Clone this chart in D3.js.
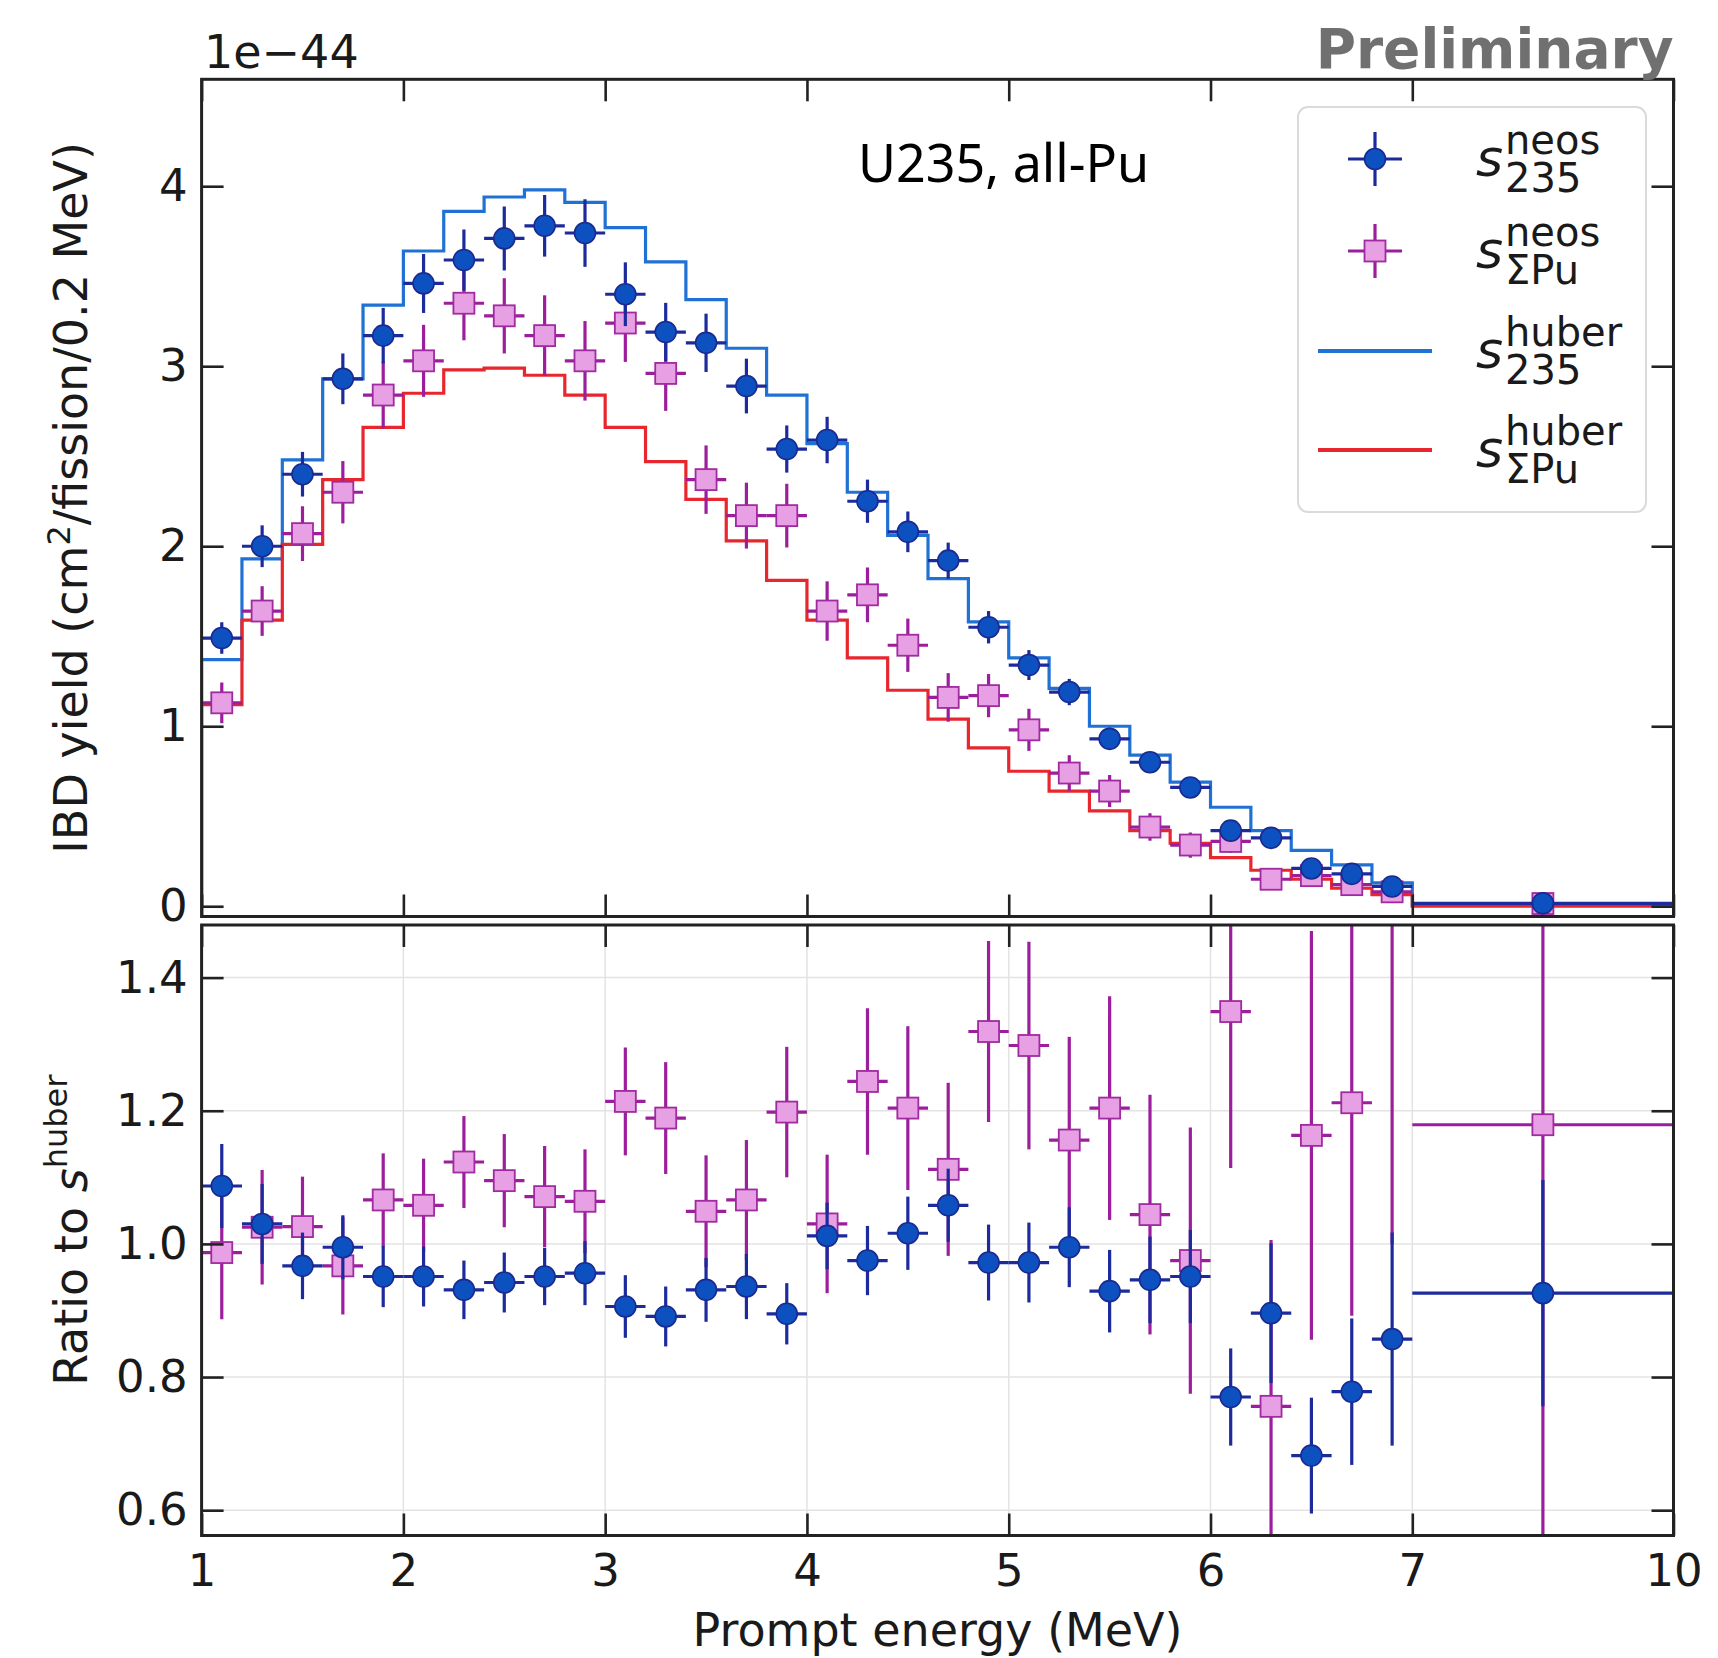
<!DOCTYPE html>
<html>
<head>
<meta charset="utf-8">
<script src="https://cdn.jsdelivr.net/npm/d3@7"></script>
<style>
  body { margin: 0; background: #fff; }
  svg { display: block; }
</style>
</head>
<body>
<svg id="chart" width="1718" height="1658"></svg>
<script>
// Prompt-energy bins (MeV): 0.2 MeV bins from 1 to 7, one wide bin 7-10
const binEdges = [1.0, 1.2, 1.4, 1.6, 1.8, 2.0, 2.2, 2.4, 2.6, 2.8, 3.0,
                  3.2, 3.4, 3.6, 3.8, 4.0, 4.2, 4.4, 4.6, 4.8, 5.0,
                  5.2, 5.4, 5.6, 5.8, 6.0, 6.2, 6.4, 6.6, 6.8, 7.0, 10.0];

// IBD yield, units of 1e-44 cm^2/fission/0.2 MeV
const neos235 = [1.49, 2.00, 2.40, 2.93, 3.17, 3.46, 3.59, 3.71, 3.78, 3.74,
                 3.40, 3.19, 3.13, 2.89, 2.54, 2.59, 2.25, 2.08, 1.92, 1.55,
                 1.34, 1.19, 0.93, 0.80, 0.66, 0.42, 0.38, 0.21, 0.18, 0.11, 0.016];
const neos235Err = [0.087, 0.116, 0.124, 0.141, 0.154, 0.164, 0.170, 0.178, 0.171, 0.188,
                    0.177, 0.162, 0.162, 0.152, 0.131, 0.129, 0.120, 0.113, 0.100, 0.090,
                    0.083, 0.073, 0.062, 0.055, 0.048, 0.040, 0.044, 0.027, 0.025, 0.021, 0.002];
const neosPu = [1.13, 1.64, 2.07, 2.30, 2.84, 3.03, 3.35, 3.28, 3.17, 3.03,
                3.24, 2.96, 2.37, 2.17, 2.17, 1.64, 1.73, 1.45, 1.16, 1.17,
                0.98, 0.74, 0.64, 0.44, 0.34, 0.36, 0.15, 0.17, 0.12, 0.08, 0.015];
const neosPuErr = [0.113, 0.138, 0.152, 0.173, 0.186, 0.200, 0.206, 0.209, 0.224, 0.221,
                   0.216, 0.208, 0.190, 0.183, 0.177, 0.165, 0.152, 0.148, 0.135, 0.120,
                   0.117, 0.099, 0.089, 0.076, 0.070, 0.063, 0.050, 0.046, 0.032, 0.039, 0.005];
const huber235 = [1.37, 1.93, 2.48, 2.93, 3.34, 3.64, 3.86, 3.94, 3.98, 3.91,
                  3.77, 3.58, 3.37, 3.10, 2.84, 2.57, 2.30, 2.06, 1.82, 1.58,
                  1.38, 1.21, 1.00, 0.84, 0.69, 0.55, 0.42, 0.31, 0.23, 0.13, 0.005];
const huberPu = [1.12, 1.59, 2.01, 2.37, 2.66, 2.85, 2.98, 2.99, 2.95, 2.84,
                 2.66, 2.47, 2.26, 2.03, 1.81, 1.59, 1.38, 1.20, 1.04, 0.88,
                 0.75, 0.64, 0.53, 0.42, 0.35, 0.27, 0.20, 0.15, 0.10, 0.065, 0.0];

// Ratio to the Huber prediction
const ratio235 = [1.087, 1.030, 0.967, 0.995, 0.951, 0.951, 0.931, 0.942, 0.951, 0.956,
                  0.906, 0.891, 0.931, 0.936, 0.895, 1.012, 0.975, 1.016, 1.058, 0.972,
                  0.972, 0.995, 0.929, 0.946, 0.951, 0.770, 0.896, 0.682, 0.778, 0.857, 0.926];
const ratio235Err = [0.063, 0.060, 0.050, 0.048, 0.046, 0.045, 0.044, 0.045, 0.043, 0.048,
                     0.047, 0.045, 0.048, 0.049, 0.046, 0.050, 0.052, 0.055, 0.055, 0.057,
                     0.060, 0.060, 0.062, 0.065, 0.070, 0.073, 0.105, 0.087, 0.110, 0.160, 0.170];
const ratioPu = [0.987, 1.025, 1.026, 0.967, 1.066, 1.058, 1.123, 1.095, 1.071, 1.064,
                 1.214, 1.189, 1.049, 1.066, 1.198, 1.030, 1.244, 1.204, 1.112, 1.319,
                 1.298, 1.156, 1.204, 1.044, 0.975, 1.349, 0.756, 1.163, 1.212, 1.600, 1.179];
const ratioPuErr = [0.100, 0.086, 0.075, 0.073, 0.070, 0.070, 0.069, 0.070, 0.076, 0.078,
                    0.081, 0.084, 0.084, 0.090, 0.098, 0.104, 0.110, 0.123, 0.130, 0.136,
                    0.156, 0.155, 0.168, 0.180, 0.200, 0.235, 0.250, 0.307, 0.320, 0.600, 0.750];

// Tick values
const xTicks = [1, 2, 3, 4, 5, 6, 7, 10];
const yTopTicks = [0, 1, 2, 3, 4];
const yBotTicks = [0.6, 0.8, 1.0, 1.2, 1.4];

// ---------------------------------------------------------------
const W = 1718, H = 1658;
const FONT = "DejaVu Sans";
const INK = "#1a1a1a";
const C = {
  blueFill: "#0d50c0", blueEdge: "#1a2a90", blueBar: "#1c2a9c",
  pinkFill: "#e7a0e3", pinkEdge: "#a02aa0", pinkBar: "#9c1e9c",
  huber235: "#1f72d3", huberPu: "#e8262d"
};

const L = 201.6, R = 1673.5;
const top1 = 79.3, bot1 = 916.5, top2 = 925, bot2 = 1535.5;

const svg = d3.select("#chart");
svg.append("rect").attr("width", W).attr("height", H).attr("fill", "#fff");

// piecewise x: the 7-10 MeV bin is compressed
const x = d3.scaleLinear().domain([1, 7, 10]).range([L, 1412.3, R]);
const yTop = d3.scaleLinear().domain([-0.057, 4.594]).range([bot1, top1]);
const yBot = d3.scaleLinear().domain([0.562, 1.479]).range([bot2, top2]);

const centers = binEdges.slice(0, -1).map((e, i) => (e + binEdges[i + 1]) / 2);
const halfW = binEdges.slice(0, -1).map((e, i) => (binEdges[i + 1] - e) / 2);

const defs = svg.append("defs");
defs.append("clipPath").attr("id", "clipTop").append("rect")
  .attr("x", L).attr("y", top1).attr("width", R - L).attr("height", bot1 - top1);
defs.append("clipPath").attr("id", "clipBot").append("rect")
  .attr("x", L).attr("y", top2).attr("width", R - L).attr("height", bot2 - top2);

// ---------------- helpers ----------------
function stepPath(vals, y) {
  let d = `M${x(binEdges[0])},${y(0)}`;
  vals.forEach((v, i) => { d += `V${y(v)}H${x(binEdges[i + 1])}`; });
  return d;
}

function errorSeries(g, vals, errs, y, kind) {
  const pts = vals.map((v, i) => ({ c: centers[i], hw: halfW[i], v, e: errs[i] }));
  const bar = kind === "circle" ? C.blueBar : C.pinkBar;
  const s = g.append("g");
  s.selectAll("line.v").data(pts).join("line").attr("class", "v")
    .attr("x1", d => x(d.c)).attr("x2", d => x(d.c))
    .attr("y1", d => y(d.v - d.e)).attr("y2", d => y(d.v + d.e))
    .attr("stroke", bar).attr("stroke-width", 3.2);
  s.selectAll("line.h").data(pts).join("line").attr("class", "h")
    .attr("x1", d => x(d.c - d.hw)).attr("x2", d => x(d.c + d.hw))
    .attr("y1", d => y(d.v)).attr("y2", d => y(d.v))
    .attr("stroke", bar).attr("stroke-width", 3.2);
  if (kind === "circle") {
    s.selectAll("circle").data(pts).join("circle")
      .attr("cx", d => x(d.c)).attr("cy", d => y(d.v)).attr("r", 10.5)
      .attr("fill", C.blueFill).attr("stroke", C.blueEdge).attr("stroke-width", 1.6);
  } else {
    s.selectAll("rect").data(pts).join("rect")
      .attr("x", d => x(d.c) - 10.5).attr("y", d => y(d.v) - 10.5)
      .attr("width", 21).attr("height", 21)
      .attr("fill", C.pinkFill).attr("stroke", C.pinkEdge).attr("stroke-width", 1.8);
  }
}

function styleAxis(g, withText) {
  g.select(".domain").remove();
  g.selectAll(".tick line").attr("stroke", "#222").attr("stroke-width", 2.6);
  g.selectAll(".tick text")
    .attr("font-family", FONT).attr("font-size", 45).attr("fill", INK);
  if (!withText) g.selectAll(".tick text").remove();
}

const TL = -22;

// ---------------- top panel ----------------
const gTop = svg.append("g");
const topData = gTop.append("g").attr("clip-path", "url(#clipTop)");
topData.append("path").attr("d", stepPath(huber235, yTop))
  .attr("fill", "none").attr("stroke", C.huber235).attr("stroke-width", 3.2);
topData.append("path").attr("d", stepPath(huberPu, yTop))
  .attr("fill", "none").attr("stroke", C.huberPu).attr("stroke-width", 3.2);
errorSeries(topData, neosPu, neosPuErr, yTop, "square");
errorSeries(topData, neos235, neos235Err, yTop, "circle");

gTop.append("g").attr("transform", `translate(${L},0)`)
  .call(d3.axisLeft(yTop).tickValues(yTopTicks).tickFormat(d3.format("d")).tickSize(TL).tickPadding(14))
  .call(g => styleAxis(g, true));
gTop.append("g").attr("transform", `translate(${R},0)`)
  .call(d3.axisRight(yTop).tickValues(yTopTicks).tickSize(TL))
  .call(g => styleAxis(g, false));
gTop.append("g").attr("transform", `translate(0,${top1})`)
  .call(d3.axisTop(x).tickValues(xTicks).tickSize(TL))
  .call(g => styleAxis(g, false));
gTop.append("g").attr("transform", `translate(0,${bot1})`)
  .call(d3.axisBottom(x).tickValues(xTicks).tickSize(TL))
  .call(g => styleAxis(g, false));
gTop.append("rect").attr("x", L).attr("y", top1).attr("width", R - L).attr("height", bot1 - top1)
  .attr("fill", "none").attr("stroke", "#222").attr("stroke-width", 3);

// ---------------- bottom (ratio) panel ----------------
const gBot = svg.append("g");
const grid = gBot.append("g").attr("stroke", "#e3e3e3").attr("stroke-width", 1.5);
grid.selectAll("line.gy").data(yBotTicks).join("line").attr("class", "gy")
  .attr("x1", L).attr("x2", R).attr("y1", d => yBot(d)).attr("y2", d => yBot(d));
grid.selectAll("line.gx").data(xTicks).join("line").attr("class", "gx")
  .attr("x1", d => x(d)).attr("x2", d => x(d)).attr("y1", top2).attr("y2", bot2);

const botData = gBot.append("g").attr("clip-path", "url(#clipBot)");
errorSeries(botData, ratioPu, ratioPuErr, yBot, "square");
errorSeries(botData, ratio235, ratio235Err, yBot, "circle");

gBot.append("g").attr("transform", `translate(${L},0)`)
  .call(d3.axisLeft(yBot).tickValues(yBotTicks).tickFormat(d3.format(".1f")).tickSize(TL).tickPadding(14))
  .call(g => styleAxis(g, true));
gBot.append("g").attr("transform", `translate(${R},0)`)
  .call(d3.axisRight(yBot).tickValues(yBotTicks).tickSize(TL))
  .call(g => styleAxis(g, false));
gBot.append("g").attr("transform", `translate(0,${top2})`)
  .call(d3.axisTop(x).tickValues(xTicks).tickSize(TL))
  .call(g => styleAxis(g, false));
gBot.append("g").attr("transform", `translate(0,${bot2})`)
  .call(d3.axisBottom(x).tickValues(xTicks).tickFormat(d3.format("d")).tickSize(TL).tickPadding(19))
  .call(g => styleAxis(g, true));
gBot.append("rect").attr("x", L).attr("y", top2).attr("width", R - L).attr("height", bot2 - top2)
  .attr("fill", "none").attr("stroke", "#222").attr("stroke-width", 3);

// ---------------- axis titles & annotations ----------------
svg.append("text").attr("x", (L + R) / 2).attr("y", 1646)
  .attr("text-anchor", "middle").attr("font-family", FONT).attr("font-size", 46).attr("fill", INK)
  .text("Prompt energy (MeV)");

const yl = svg.append("text").attr("transform", `translate(87,${(top1 + bot1) / 2}) rotate(-90)`)
  .attr("text-anchor", "middle").attr("font-family", FONT).attr("font-size", 46).attr("fill", INK);
yl.append("tspan").text("IBD yield (cm");
yl.append("tspan").attr("font-size", 32).attr("dy", -17).text("2");
yl.append("tspan").attr("dy", 17).text("/fission/0.2 MeV)");

const rl = svg.append("text").attr("transform", `translate(87,${(top2 + bot2) / 2}) rotate(-90)`)
  .attr("text-anchor", "middle").attr("font-family", FONT).attr("font-size", 46).attr("fill", INK);
rl.append("tspan").text("Ratio to ");
rl.append("tspan").attr("font-style", "italic").text("s");
rl.append("tspan").attr("font-size", 32).attr("dy", -20).text("huber");

svg.append("text").attr("x", 204).attr("y", 68)
  .attr("font-family", FONT).attr("font-size", 46).attr("fill", INK).text("1e\u221244");

svg.append("text").attr("x", R).attr("y", 68).attr("text-anchor", "end")
  .attr("font-family", FONT).attr("font-weight", "bold").attr("font-size", 55).attr("fill", "#707070")
  .text("Preliminary");

svg.append("text").attr("x", 858).attr("y", 182)
  .attr("font-family", "Noto Sans").attr("font-size", 52).attr("fill", "#000")
  .text("U235, all-Pu");

// ---------------- legend ----------------
const leg = svg.append("g");
leg.append("rect").attr("x", 1298).attr("y", 107).attr("width", 348).attr("height", 405).attr("rx", 10)
  .attr("fill", "#fff").attr("fill-opacity", 0.85).attr("stroke", "#dadada").attr("stroke-width", 2);

const legendItems = [
  { kind: "circle", sub: "235", sup: "neos", y: 159 },
  { kind: "square", sub: "\u03a3Pu", sup: "neos", y: 251 },
  { kind: "line", color: C.huber235, sub: "235", sup: "huber", y: 351 },
  { kind: "line", color: C.huberPu, sub: "\u03a3Pu", sup: "huber", y: 450 }
];
const mx = 1375;
legendItems.forEach(it => {
  const g = leg.append("g");
  if (it.kind === "line") {
    g.append("line").attr("x1", 1318).attr("x2", 1432).attr("y1", it.y).attr("y2", it.y)
      .attr("stroke", it.color).attr("stroke-width", 4);
  } else {
    const bar = it.kind === "circle" ? C.blueBar : C.pinkBar;
    g.append("line").attr("x1", mx - 27).attr("x2", mx + 27).attr("y1", it.y).attr("y2", it.y)
      .attr("stroke", bar).attr("stroke-width", 3.2);
    g.append("line").attr("x1", mx).attr("x2", mx).attr("y1", it.y - 27).attr("y2", it.y + 27)
      .attr("stroke", bar).attr("stroke-width", 3.2);
    if (it.kind === "circle") {
      g.append("circle").attr("cx", mx).attr("cy", it.y).attr("r", 10.5)
        .attr("fill", C.blueFill).attr("stroke", C.blueEdge).attr("stroke-width", 1.6);
    } else {
      g.append("rect").attr("x", mx - 10.5).attr("y", it.y - 10.5).attr("width", 21).attr("height", 21)
        .attr("fill", C.pinkFill).attr("stroke", C.pinkEdge).attr("stroke-width", 1.8);
    }
  }
  // s with stacked superscript and subscript, as one text element
  const t = g.append("text").attr("x", 1476).attr("y", it.y + 17)
    .attr("font-family", FONT).attr("font-size", 52).attr("fill", INK);
  t.append("tspan").attr("font-style", "italic").text("s");
  t.append("tspan").attr("x", 1505).attr("dy", -22).attr("font-size", 40).text(it.sup);
  t.append("tspan").attr("x", 1505).attr("dy", 38).attr("font-size", 40).text(it.sub);
});
</script>
</body>
</html>
